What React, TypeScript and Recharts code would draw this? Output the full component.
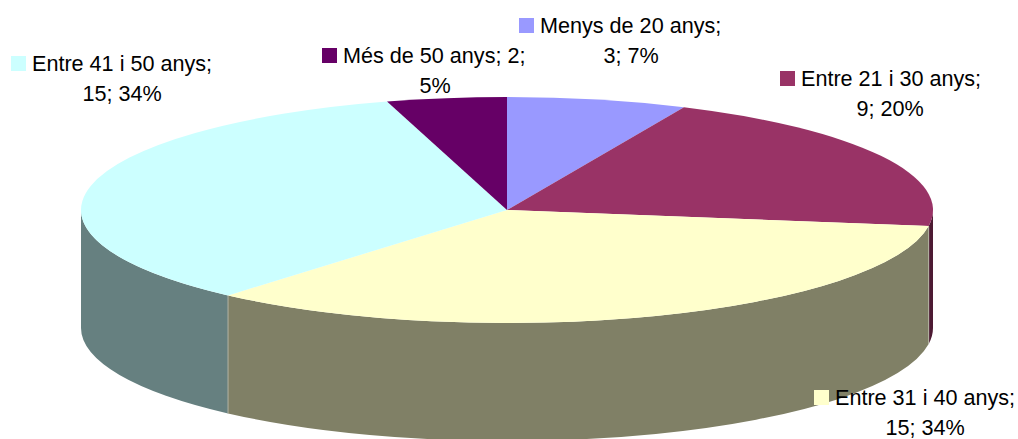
import { PieChart, Pie } from 'recharts';

const categories = ['Menys de 20 anys', 'Entre 21 i 30 anys', 'Entre 31 i 40 anys', 'Entre 41 i 50 anys', 'Més de 50 anys'];
const counts = [3, 9, 15, 15, 2];
const topColors = ['#9999FF', '#993366', '#FFFFCC', '#CCFFFF', '#660066'];
const wallColors = ['#4D4D80', '#4D1A33', '#808066', '#668080', '#330033'];

// where each data label sits: key square left, first baseline, centre of the second line
const labelKeyX = [519, 780, 814, 11, 322];
const labelBaseY = [33, 86, 405, 71, 63];
const labelCentreX = [631, 890, 925, 122, 435];
// "Més de 50 anys; 2;" breaks after the value, the others after the name
const breakAfterValue = [false, false, false, false, true];

const data = categories.map((name, i) => ({ name, value: counts[i], fill: topColors[i] }));

const WIDTH = 1018;
const HEIGHT = 439;
const CX = 507;
const CY = 210;
const RX = 426;
const RY = 113;
const DEPTH = 118;
const FONT = '"Liberation Sans", Arial, sans-serif';

const pt = (deg: number, dy = 0) => {
  const a = (deg * Math.PI) / 180;
  return `${CX + RX * Math.cos(a)} ${CY - RY * Math.sin(a) + dy}`;
};

// Recharts gives the angles, they are then flattened into an ellipse with a wall under the front half
function Slice3D(props: any) {
  const { startAngle, endAngle, fill, index } = props;
  const large = startAngle - endAngle > 180 ? 1 : 0;
  const top = `M${CX} ${CY} L${pt(startAngle)} A${RX} ${RY} 0 ${large} 1 ${pt(endAngle)} Z`;

  const wallStart = Math.min(startAngle, 0);
  const wallEnd = Math.max(endAngle, -180);
  const hasWall = wallStart > wallEnd;
  const wall = `M${pt(wallStart)} A${RX} ${RY} 0 0 1 ${pt(wallEnd)} L${pt(wallEnd, DEPTH)} A${RX} ${RY} 0 0 0 ${pt(wallStart, DEPTH)} Z`;
  const seam = `M${pt(wallStart)} L${pt(wallStart, DEPTH)}`;

  return (
    <g>
      {hasWall && <path d={wall} fill={wallColors[index]} stroke="none" />}
      {hasWall && wallStart < 0 && <path d={seam} stroke="#B3B3A3" strokeWidth={1} fill="none" />}
      <path d={top} fill={fill} stroke="none" />
    </g>
  );
}

function SliceLabel(props: any) {
  const { index, name, value, percent } = props;
  const pct = `${Math.round(percent * 100)}%`;
  const first = breakAfterValue[index] ? `${name}; ${value};` : `${name};`;
  const second = breakAfterValue[index] ? pct : `${value}; ${pct}`;
  const keyX = labelKeyX[index];
  const y = labelBaseY[index];
  return (
    <g fontFamily={FONT} fontSize={21.6} fill="#000000">
      <rect x={keyX} y={y - 15} width={15} height={15} fill={topColors[index]} />
      <text x={keyX + 21} y={y}>{first}</text>
      <text x={labelCentreX[index]} y={y + 30} textAnchor="middle">{second}</text>
    </g>
  );
}

export default function App() {
  return (
    <div style={{ position: 'absolute', left: 0, top: 0, width: WIDTH, height: HEIGHT }}>
      <PieChart width={WIDTH} height={HEIGHT} margin={{ top: 0, right: 0, bottom: 0, left: 0 }}>
        <Pie
          data={data}
          dataKey="value"
          nameKey="name"
          cx={CX}
          cy={CY}
          outerRadius={RX}
          startAngle={90}
          endAngle={-270}
          stroke="none"
          shape={Slice3D}
          label={SliceLabel}
          labelLine={false}
          isAnimationActive={false}
        />
      </PieChart>
    </div>
  );
}
